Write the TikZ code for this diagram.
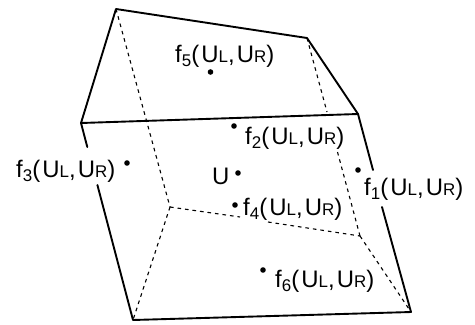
\documentclass[tikz,border=0pt]{standalone}
\usepackage{fontspec}
\setmainfont{Liberation Sans}
\newfontfamily\lblfont[LetterSpace=9]{Liberation Sans}
\tikzset{
  solidedge/.style={line width=1.9pt,line cap=round,line join=round},
  hiddenedge/.style={line width=1.1pt,dash pattern=on 3.6pt off 4pt},
  lbl/.style={anchor=base west,inner sep=0pt,font=\fontsize{24}{26}\lblfont},
  pointdot/.style={circle,fill=black,inner sep=0pt,minimum size=5.6pt}
}
\newcommand{\flux}[1]{f\raisebox{-4.5pt}{\fontsize{17}{18}\selectfont #1}(U\raisebox{-.5pt}{\fontsize{17}{18}\selectfont L},U\raisebox{-.5pt}{\fontsize{17}{18}\selectfont R})}
\begin{document}
\begin{tikzpicture}[x=1bp,y=-1bp]
\useasboundingbox (0,0) rectangle (475,324);
% corners
\coordinate (A) at (116,9);
\coordinate (B) at (307,38);
\coordinate (C) at (358,114);
\coordinate (D) at (81,123);
\coordinate (E) at (133,320);
\coordinate (F) at (411,312);
\coordinate (G) at (170,207);
\coordinate (H) at (360,236);
% ends of the interrupted edges
\coordinate (DEa) at (87.3,147);
\coordinate (DEb) at (97.4,185);
\coordinate (CFa) at (373,170);
\coordinate (CFb) at (382,207);
\coordinate (BHa) at (327,112);
\coordinate (BHb) at (337.5,152);
\coordinate (GHa) at (240,217);
\coordinate (GHb) at (268,222);
% hidden edges
\draw[hiddenedge] (A) -- (G);
\draw[hiddenedge] (G) -- (E);
\draw[hiddenedge] (G) -- (GHa);
\draw[hiddenedge] (GHb) -- (H);
\draw[hiddenedge] (B) -- (BHa);
\draw[hiddenedge] (BHb) -- (H);
\draw[hiddenedge] (H) -- (F);
% visible edges
\draw[solidedge] (D) -- (A) -- (B) -- (C) -- cycle;
\draw[solidedge] (D) -- (DEa);
\draw[solidedge] (DEb) -- (E) -- (F) -- (CFb);
\draw[solidedge] (CFa) -- (C);
% points
\node[pointdot] (p5) at (210.5,72) {};
\node[pointdot] (p2) at (234,126) {};
\node[pointdot] (p3) at (127,163) {};
\node[pointdot] (pU) at (238,173) {};
\node[pointdot] (p4) at (235,205) {};
\node[pointdot] (p1) at (358,170) {};
\node[pointdot] (p6) at (263,270) {};
% labels
\node[lbl] (t5) at (175,62) {\flux{5}};
\node[lbl] (t2) at (245,144) {\flux{2}};
\node[lbl] (t3) at (16,177) {\flux{3}};
\node[lbl] (tU) at (212,184) {U};
\node[lbl] (t4) at (243,215) {\flux{4}};
\node[lbl] (t1) at (364,195) {\flux{1}};
\node[lbl] (t6) at (275,287) {\flux{6}};
\end{tikzpicture}
\end{document}
